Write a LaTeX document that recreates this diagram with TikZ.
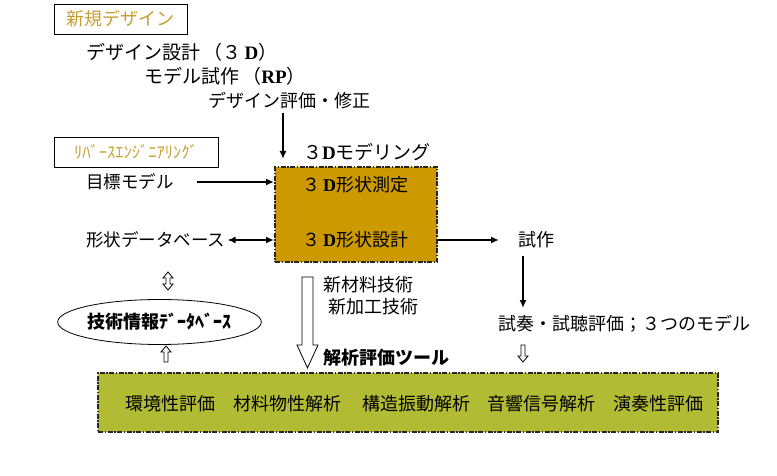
\documentclass[tikz,border=0pt]{standalone}
\usepackage{fontspec}
\setmainfont{Noto Sans CJK JP}
\newfontfamily\serifD{Liberation Serif}
\usetikzlibrary{arrows.meta,shapes.geometric}
\definecolor{goldfill}{RGB}{204,153,0}
\definecolor{olivefill}{RGB}{178,187,52}
\definecolor{ochre}{RGB}{196,158,48}
\newcommand{\DD}{{\serifD\bfseries D}}
\begin{document}
\begin{tikzpicture}[x=1pt,y=-1pt,
  every node/.style={font=\fontsize{18}{21}\selectfont, inner sep=1pt},
  lbl/.style={anchor=west},
  tagbox/.style={draw, line width=0.8pt, text=ochre, minimum height=30pt},
  dashbox/.style={draw=black!85, line width=2pt, dash pattern=on 5pt off 1.5pt on 1.5pt off 1.5pt},
  arr/.style={line width=1.6pt, -{Latex[length=8pt,width=7pt]}},
  darr/.style={line width=1.6pt, {Latex[length=8pt,width=7pt]}-{Latex[length=8pt,width=7pt]}},
  hollow/.style={draw, line width=0.8pt, fill=white}]
\useasboundingbox (0,0) rectangle (777,476);

% top tags
\node[tagbox, minimum width=133pt] (nd) at (120.5,19) {新規デザイン};
\node[tagbox, minimum width=164pt, font=\fontsize{16.5}{18}\selectfont] (rev) at (136,152) {ﾘﾊﾞｰｽｴﾝｼﾞﾆｱﾘﾝｸﾞ};

% design steps
\node[lbl, font=\fontsize{19}{21}\selectfont] (d1) at (85,52) {デザイン設計\,（３\,\DD）};
\node[lbl, font=\fontsize{19}{21}\selectfont] (d2) at (143,76) {モデル試作\,（{\serifD\bfseries RP}）};
\node[lbl] (d3) at (207,101) {デザイン評価・修正};
\coordinate (a1s) at (283,113);
\coordinate (a1e) at (283,159);
\draw[arr] (a1s) -- (a1e);

% 3D modeling box
\node[lbl, font=\fontsize{19}{21}\selectfont] (model) at (302,152) {３\DD モデリング};
\node[dashbox, fill=goldfill, minimum width=162pt, minimum height=95pt] (box) at (356,214.5) {};
\node (m1) at (355,185) {３\,\DD 形状測定};
\node (m2) at (355,240) {３\,\DD 形状設計};

% left inputs
\node[lbl, font=\fontsize{17.5}{20}\selectfont] (goal) at (85,182) {目標モデル};
\node[lbl, font=\fontsize{17.5}{20}\selectfont] (db) at (85,240) {形状データベース};
\draw[arr] ([xshift=22pt]goal.east) -- (goal.east -| box.west);
\draw[darr] ([xshift=1pt]db.east) -- (db.east -| box.west);

% right output
\node[lbl] (trial) at (517,240) {試作};
\draw[arr, shorten >=18pt] (m2 -| box.east) -- (trial.west);
\node[lbl] (eval) at (497,324) {試奏・試聴評価；３つのモデル};
\coordinate (t1) at (523,256);
\coordinate (t2) at (523,308);
\draw[arr] (t1) -- (t2);

% technical DB ellipse
\node[ellipse, draw, line width=0.8pt, minimum width=191pt, minimum height=45pt, inner sep=0pt,
      font=\fontsize{18}{20}\selectfont\bfseries] (tdb) at (159.5,322) {技術情報ﾃﾞｰﾀﾍﾞｰｽ};
\draw[hollow] (168,272) -- (173,278) -- (170,278) -- (170,284) -- (173,284) -- (168,290)
  -- (163,284) -- (166,284) -- (166,278) -- (163,278) -- cycle;
\draw[hollow] (166,346) -- (171,352) -- (168,352) -- (168,362) -- (164,362) -- (164,352) -- (161,352) -- cycle;

% big hollow down arrow
\draw[hollow] (302,277) -- (313,277) -- (313,345) -- (318,345) -- (307.5,368) -- (297,345) -- (302,345) -- cycle;
\node[lbl] (nm1) at (322,285) {新材料技術};
\node[lbl] (nm2) at (327,307) {新加工技術};
\node[lbl, font=\fontsize{18}{21}\selectfont\bfseries] (tool) at (322,358) {解析評価ツール};

% small hollow down arrow
\draw[hollow] (523,362) -- (528,356) -- (525,356) -- (525,345) -- (521,345) -- (521,356) -- (518,356) -- cycle;

% analysis box
\node[dashbox, fill=olivefill, minimum width=620pt, minimum height=59pt] (abox) at (408,402.5) {};
\node (e1) at (170,404) {環境性評価};
\node (e2) at (287,404) {材料物性解析};
\node (e3) at (416,404) {構造振動解析};
\node (e4) at (541,404) {音響信号解析};
\node (e5) at (658,404) {演奏性評価};
\end{tikzpicture}
\end{document}
